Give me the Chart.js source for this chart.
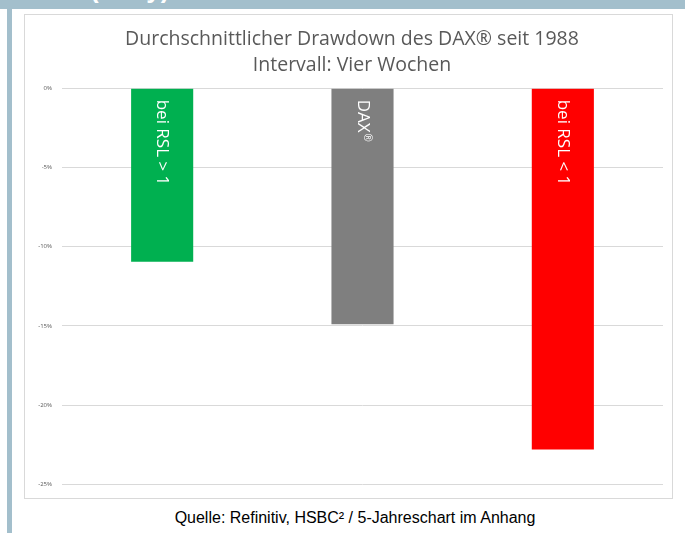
<!DOCTYPE html>
<html>
<head>
<meta charset="utf-8">
<script src="https://cdn.jsdelivr.net/npm/chart.js@4"></script>
<style>
  body { margin: 0; background: #fff; width: 685px; height: 533px; position: relative; overflow: hidden; }
  #banner { position: absolute; left: 0; top: 0; width: 685px; height: 9px; background: #a3bfcc; overflow: hidden; }
  #banner span { position: absolute; left: 90px; top: -26px; font: bold 26px "Liberation Sans", Arial, sans-serif; color: #fff; }
  #sidebar { position: absolute; left: 7px; top: 9px; width: 5px; height: 524px; background: #a3bfcc; }
  #box { position: absolute; left: 24px; top: 14px; width: 647px; height: 483px; border: 1px solid #d9d9d9; }
  #footer { position: absolute; left: 0; width: 710px; top: 509px; text-align: center; font: 16px "Liberation Sans", Arial, sans-serif; color: #000; }
</style>
</head>
<body>
<div id="banner"><span>(Rally)</span></div>
<div id="sidebar"></div>
<div id="box"><canvas id="canvas1"></canvas></div>
<div id="footer">Quelle: Refinitiv, HSBC² / 5-Jahreschart im Anhang</div>
<script>
// Daten
var categories = ['bei RSL > 1', 'DAX®', 'bei RSL < 1'];
var drawdown = [-10.95, -14.9, -22.8];
var barColors = ['#00b050', '#7f7f7f', '#ff0000'];
var yTicks = [0, -5, -10, -15, -20, -25];

// Beschriftung in den Balken (senkrecht), ® hochgestellt
var barLabels = {
    id: 'barLabels',
    afterDatasetsDraw: function (chart) {
        var ctx = chart.ctx;
        var meta = chart.getDatasetMeta(0);
        ctx.save();
        ctx.fillStyle = '#ffffff';
        ctx.textAlign = 'left';
        ctx.textBaseline = 'middle';
        meta.data.forEach(function (bar, i) {
            var parts = categories[i].split('®');
            ctx.save();
            ctx.translate(bar.x, bar.base + 11);
            ctx.rotate(Math.PI / 2);
            ctx.font = '17px "Open Sans", sans-serif';
            ctx.fillText(parts[0], 0, 0);
            if (parts.length > 1) {
                var w = ctx.measureText(parts[0]).width;
                ctx.font = '10px "Open Sans", sans-serif';
                ctx.fillText('®', w + 1, -4);
            }
            ctx.restore();
        });
        ctx.restore();
    }
};

var ctx = document.getElementById('canvas1').getContext('2d');
var chart = new Chart(ctx, {
    type: 'bar',
    data: {
        labels: categories,
        datasets: [{
            data: drawdown,
            backgroundColor: barColors,
            borderWidth: 0,
            categoryPercentage: 1,
            barPercentage: 0.31
        }]
    },
    options: {
        responsive: true,
        maintainAspectRatio: false,
        animation: false,
        layout: { padding: { left: 7, right: 0, top: 0, bottom: 0 } },
        plugins: {
            legend: { display: false },
            tooltip: { enabled: false },
            title: {
                display: true,
                text: ['Durchschnittlicher Drawdown des DAX® seit 1988', 'Intervall: Vier Wochen'],
                color: '#595959',
                font: { family: '"Open Sans", sans-serif', size: 19.5, weight: 'normal', lineHeight: 1.3 },
                padding: { top: 12, bottom: 10.5 }
            }
        },
        scales: {
            x: { display: false },
            y: {
                min: -25,
                max: 0,
                afterBuildTicks: function (scale) {
                    scale.ticks = yTicks.map(function (v) { return { value: v }; });
                },
                afterFit: function (scale) { scale.width = 30; },
                grid: { color: '#d9d9d9', drawTicks: false },
                border: { display: false },
                ticks: {
                    padding: 10,
                    color: '#595959',
                    font: { family: '"Open Sans", sans-serif', size: 6 },
                    callback: function (v) { return v + '%'; }
                }
            },
            yRight: {
                position: 'right',
                display: true,
                grid: { display: false },
                border: { display: false },
                ticks: { display: false },
                afterFit: function (scale) { scale.width = 9; }
            }
        }
    },
    plugins: [barLabels]
});
</script>
</body>
</html>
